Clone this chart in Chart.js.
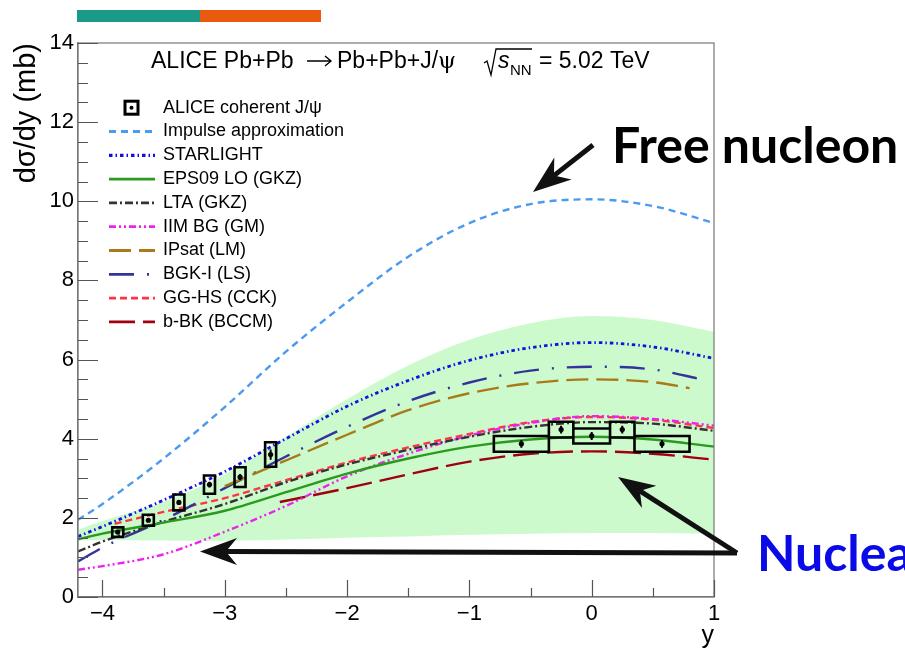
<!DOCTYPE html>
<html>
<head>
<meta charset="utf-8">
<script src="https://cdn.jsdelivr.net/npm/chart.js@4.4.1/dist/chart.umd.min.js"></script>
<style>
  body { margin: 0; background: #fff; }
  #wrap { position: relative; width: 905px; height: 652px; }
  #area { position: absolute; left: 0; top: 0; width: 905px; height: 652px; }
  .faixa { position: absolute; top: 10px; height: 12px; }
</style>
</head>
<body>
<div id="wrap">
  <div id="area"><canvas id="grafico"></canvas></div>
  <div class="faixa" style="left:77px;width:123px;background:#1b9a89"></div>
  <div class="faixa" style="left:200px;width:121px;background:#ea5a0c"></div>
</div>
<script>
// ticks dos eixos
const ticksX = [-4, -3, -2, -1, 0, 1];
const ticksY = [0, 2, 4, 6, 8, 10, 12, 14];

// curvas teóricas
const rapidez = [-4.2, -4, -3.5, -3, -2.5, -2, -1.5, -1, -0.5, 0, 0.5, 1];
const impulso = [1.95, 2.35, 3.5, 4.8, 6.2, 7.45, 8.6, 9.45, 9.93, 10.05, 9.88, 9.45];
const starlight = [1.53, 1.78, 2.45, 3.17, 4.0, 4.82, 5.47, 5.98, 6.3, 6.43, 6.32, 6.03];
const eps09 = [1.46, 1.6, 1.88, 2.18, 2.65, 3.12, 3.5, 3.8, 3.98, 4.05, 3.98, 3.8];
const eps09Sup = [1.7, 1.92, 2.4, 3.1, 4.05, 5.0, 5.85, 6.5, 6.92, 7.1, 7.0, 6.7];
const eps09Inf = [1.42, 1.44, 1.43, 1.42, 1.45, 1.5, 1.53, 1.57, 1.6, 1.62, 1.62, 1.6];
const lta = [1.15, 1.4, 1.9, 2.35, 2.9, 3.35, 3.72, 4.05, 4.3, 4.42, 4.38, 4.2];
const iim = [0.69, 0.78, 1.08, 1.65, 2.3, 3.05, 3.62, 4.08, 4.4, 4.57, 4.5, 4.33];

const ipsatX = [-3, -2.5, -2, -1.5, -1, -0.5, 0, 0.5, 0.8];
const ipsat = [2.8, 3.45, 4.1, 4.72, 5.15, 5.4, 5.5, 5.43, 5.28];
const bgkX = [-4.2, -4, -3.5, -3, -2.5, -2, -1.5, -1, -0.5, 0, 0.5, 0.9];
const bgk = [0.9, 1.25, 1.95, 2.75, 3.55, 4.3, 4.95, 5.42, 5.72, 5.82, 5.75, 5.5];
const gghsX = [-3.9, -3.5, -3, -2.5, -2, -1.5, -1, -0.5, 0, 0.5, 1];
const gghs = [1.85, 2.15, 2.5, 2.95, 3.4, 3.78, 4.12, 4.42, 4.55, 4.48, 4.27];
const bbkX = [-2.55, -2, -1.5, -1, -0.5, 0, 0.5, 1];
const bbk = [2.4, 2.75, 3.1, 3.42, 3.62, 3.68, 3.62, 3.47];

// dados ALICE
const aliceY = [-3.875, -3.625, -3.375, -3.125, -2.875, -2.625, -0.575, -0.25, 0, 0.25, 0.575];
const aliceSecao = [1.64, 1.94, 2.39, 2.84, 3.03, 3.6, 3.87, 4.23, 4.07, 4.23, 3.87];
const aliceEstat = [0.04, 0.05, 0.06, 0.07, 0.08, 0.13, 0.1, 0.1, 0.1, 0.1, 0.1];
const aliceSist = [0.12, 0.14, 0.2, 0.23, 0.25, 0.31, 0.2, 0.2, 0.19, 0.2, 0.2];
const aliceMeiaLargura = [0.045, 0.045, 0.045, 0.045, 0.045, 0.045, 0.225, 0.1, 0.15, 0.1, 0.225];

const fonteEixo = "'Liberation Sans', Arial, Helvetica, sans-serif";

function pares(xs, ys) {
  return xs.map((x, i) => ({ x: x, y: ys[i] }));
}

function formatarTick(v) {
  return String(v).replace('-', '\u2212');
}

function linha(label, xs, ys, cor, dash, largura) {
  return {
    label: label,
    data: pares(xs, ys),
    borderColor: cor,
    borderDash: dash,
    borderWidth: largura || 2.4,
    pointRadius: 0,
    fill: false,
    cubicInterpolationMode: 'monotone',
    order: 5
  };
}

// caixas de erro sistemático
function montarCaixas() {
  const pts = [];
  aliceY.forEach((x, i) => {
    const x0 = x - aliceMeiaLargura[i], x1 = x + aliceMeiaLargura[i];
    const y0 = aliceSecao[i] - aliceSist[i], y1 = aliceSecao[i] + aliceSist[i];
    pts.push({ x: x0, y: y0 }, { x: x1, y: y0 }, { x: x1, y: y1 }, { x: x0, y: y1 }, { x: x0, y: y0 }, { x: x0, y: null });
  });
  return pts;
}

function montarBarras() {
  const pts = [];
  aliceY.forEach((x, i) => {
    pts.push({ x: x, y: aliceSecao[i] - aliceEstat[i] }, { x: x, y: aliceSecao[i] + aliceEstat[i] }, { x: x, y: null });
  });
  return pts;
}

const modelos = [
  linha('Impulse approximation', rapidez, impulso, '#4a9af0', [7, 5]),
  linha('STARLIGHT', rapidez, starlight, '#1212e0', [3.5, 3, 1.5, 3], 2.8),
  linha('EPS09 LO (GKZ)', rapidez, eps09, '#2a9a1e', [], 2.4),
  linha('LTA (GKZ)', rapidez, lta, '#333333', [8, 3, 2, 3]),
  linha('IIM BG (GM)', rapidez, iim, '#ee22ee', [7, 3, 2, 3, 2, 3]),
  linha('IPsat (LM)', ipsatX, ipsat, '#a87a1a', [22, 8]),
  linha('BGK-I (LS)', bgkX, bgk, '#333399', [25, 13, 2, 13]),
  linha('GG-HS (CCK)', gghsX, gghs, '#ff3344', [7, 4]),
  linha('b-BK (BCCM)', bbkX, bbk, '#a00010', [26, 8])
];

const datasets = [
  {
    label: 'ALICE coherent J/\u03c8',
    data: pares(aliceY, aliceSecao),
    showLine: false,
    pointRadius: 2.6,
    pointBackgroundColor: '#000',
    pointBorderWidth: 0,
    order: 0
  },
  {
    label: 'estat',
    data: montarBarras(),
    borderColor: '#000',
    borderWidth: 2,
    pointRadius: 0,
    spanGaps: false,
    order: 0
  },
  {
    label: 'sist',
    data: montarCaixas(),
    borderColor: '#000',
    borderWidth: 2.6,
    borderJoinStyle: 'miter',
    borderCapStyle: 'square',
    pointRadius: 0,
    spanGaps: false,
    order: 1
  },
  ...modelos,
  {
    label: 'banda_sup',
    data: pares(rapidez, eps09Sup),
    borderColor: 'rgba(0,0,0,0)',
    borderWidth: 1,
    backgroundColor: '#ccfacc',
    pointRadius: 0,
    fill: '+1',
    cubicInterpolationMode: 'monotone',
    order: 10
  },
  {
    label: 'banda_inf',
    data: pares(rapidez, eps09Inf),
    borderColor: 'rgba(0,0,0,0)',
    borderWidth: 1,
    pointRadius: 0,
    fill: false,
    cubicInterpolationMode: 'monotone',
    order: 11
  }
];

function seta(ctx, x0, y0, x1, y1, comp, meia) {
  const ang = Math.atan2(y1 - y0, x1 - x0);
  const c = Math.cos(ang), s = Math.sin(ang);
  const bx = x1 - comp * c, by = y1 - comp * s;
  const nx = x1 - comp * 0.7 * c, ny = y1 - comp * 0.7 * s;
  ctx.beginPath();
  ctx.moveTo(x0, y0);
  ctx.lineTo(nx, ny);
  ctx.stroke();
  ctx.beginPath();
  ctx.moveTo(x1, y1);
  ctx.lineTo(bx - meia * s, by + meia * c);
  ctx.lineTo(nx, ny);
  ctx.lineTo(bx + meia * s, by - meia * c);
  ctx.closePath();
  ctx.fill();
}

const decoracao = {
  id: 'decoracao',
  afterDraw(chart) {
    const ctx = chart.ctx, a = chart.chartArea;
    const sx = chart.scales.x, sy = chart.scales.y;
    ctx.save();

    // moldura
    ctx.strokeStyle = '#777';
    ctx.lineWidth = 1.2;
    ctx.strokeRect(a.left, a.top, a.right - a.left, a.bottom - a.top);

    // marcas internas
    ctx.strokeStyle = '#555';
    ctx.beginPath();
    for (let v = 0; v <= 14.001; v += 0.5) {
      const p = Math.round(sy.getPixelForValue(v)) + 0.5;
      const len = (v % 2 === 0) ? 20 : 10;
      ctx.moveTo(a.left, p);
      ctx.lineTo(a.left + len, p);
    }
    for (let v = -4; v <= 1.001; v += 0.5) {
      const p = Math.round(sx.getPixelForValue(v)) + 0.5;
      const len = Number.isInteger(v) ? 17 : 9;
      ctx.moveTo(p, a.bottom);
      ctx.lineTo(p, a.bottom - len);
    }
    ctx.stroke();

    // cabeçalho
    ctx.fillStyle = '#000';
    ctx.textAlign = 'left';
    ctx.textBaseline = 'alphabetic';
    ctx.font = '23px ' + fonteEixo;
    ctx.fillText('ALICE Pb+Pb', 151, 68);
    ctx.fillText('Pb+Pb+J/', 337, 68);
    ctx.font = '23px "DejaVu Serif", serif';
    ctx.fillText('\u03c8', 438, 68);
    // seta do processo
    ctx.strokeStyle = '#000';
    ctx.lineWidth = 1.4;
    ctx.beginPath();
    ctx.moveTo(307, 61);
    ctx.lineTo(331, 61);
    ctx.moveTo(325, 56);
    ctx.lineTo(331, 61);
    ctx.lineTo(325, 66);
    ctx.stroke();
    ctx.lineWidth = 1.3;
    ctx.beginPath();
    ctx.moveTo(484, 63);
    ctx.lineTo(487, 61);
    ctx.lineTo(491, 75);
    ctx.lineTo(496, 49);
    ctx.lineTo(532, 49);
    ctx.stroke();
    ctx.font = 'italic 23px ' + fonteEixo;
    ctx.fillText('s', 498, 68);
    ctx.font = '15px ' + fonteEixo;
    ctx.fillText('NN', 510, 75);
    ctx.font = '23px ' + fonteEixo;
    ctx.fillText('= 5.02 TeV', 539, 68);

    // legenda
    const topo = 107.7, passo = 23.8;
    ctx.font = '18px ' + fonteEixo;
    ctx.textBaseline = 'middle';
    ctx.fillText('ALICE coherent J/\u03c8', 163, topo);
    ctx.lineWidth = 3;
    ctx.strokeRect(125, topo - 6.5, 13, 13);
    ctx.beginPath();
    ctx.arc(131.5, topo, 2, 0, Math.PI * 2);
    ctx.fill();
    modelos.forEach((d, i) => {
      const yy = topo + passo * (i + 1);
      ctx.save();
      ctx.strokeStyle = d.borderColor;
      ctx.lineWidth = d.borderWidth + 0.4;
      ctx.setLineDash(d.borderDash);
      ctx.beginPath();
      ctx.moveTo(109, yy);
      ctx.lineTo(155, yy);
      ctx.stroke();
      ctx.restore();
      ctx.fillStyle = '#000';
      ctx.fillText(d.label, 163, yy);
    });

    // setas e anotações
    ctx.fillStyle = '#111';
    ctx.strokeStyle = '#111';
    ctx.lineWidth = 5;
    ctx.lineJoin = 'round';
    seta(ctx, 593, 145, 533, 192, 38, 14);
    seta(ctx, 737, 553, 200, 551.5, 37, 13.5);
    seta(ctx, 737, 553, 618, 477, 37, 13.3);

    ctx.textBaseline = 'alphabetic';
    ctx.font = 'bold 50px Lato';
    ctx.fillStyle = '#000';
    ctx.fillText('Free nucleon', 612, 163);
    ctx.fillStyle = '#0a0ae8';
    ctx.fillText('Nuclear', 757, 571);

    ctx.restore();
  }
};

new Chart(document.getElementById('grafico').getContext('2d'), {
  type: 'line',
  data: { datasets: datasets },
  options: {
    responsive: true,
    maintainAspectRatio: false,
    animation: false,
    layout: { padding: { top: 43, right: 191, left: 0, bottom: 0 } },
    plugins: { legend: { display: false }, tooltip: { enabled: false } },
    scales: {
      x: {
        type: 'linear',
        min: -4.2,
        max: 1,
        afterBuildTicks: s => { s.ticks = ticksX.map(v => ({ value: v })); },
        afterFit: s => { s.height = 55; },
        grid: { display: false, drawTicks: false },
        border: { display: true, color: '#777', width: 1.2 },
        ticks: {
          autoSkip: false, maxRotation: 0, padding: 4, color: '#000',
          font: { family: fonteEixo, size: 22 },
          callback: v => formatarTick(v)
        },
        title: {
          display: true, text: 'y', align: 'end', color: '#000',
          font: { family: fonteEixo, size: 25 },
          padding: { top: 0, bottom: 1 }
        }
      },
      y: {
        type: 'linear',
        min: 0,
        max: 14,
        afterBuildTicks: s => { s.ticks = ticksY.map(v => ({ value: v })); },
        afterFit: s => { s.width = 78; },
        grid: { display: false, drawTicks: false },
        border: { display: true, color: '#777', width: 1.2 },
        ticks: {
          autoSkip: false, padding: 4, color: '#000',
          font: { family: fonteEixo, size: 22 },
          callback: v => formatarTick(v)
        },
        title: {
          display: true, text: 'd\u03c3/dy (mb)', align: 'end', color: '#000',
          font: { family: fonteEixo, size: 29 },
          padding: { top: 10, bottom: 0 }
        }
      }
    }
  },
  plugins: [decoracao]
});
</script>
</body>
</html>
